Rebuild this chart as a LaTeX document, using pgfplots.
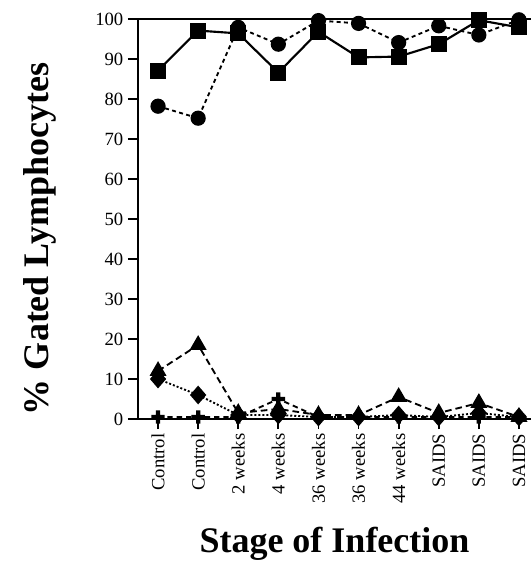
\documentclass[border=0pt]{standalone}
\usepackage{fontspec}
\setmainfont{Liberation Serif}
\usepackage{pgfplots}
\pgfplotsset{compat=1.18}
\pgfdeclareplotmark{fatplus}{%
  \pgfpathrectangle{\pgfpoint{-\pgfplotmarksize}{-0.32\pgfplotmarksize}}{\pgfpoint{2\pgfplotmarksize}{0.64\pgfplotmarksize}}%
  \pgfpathrectangle{\pgfpoint{-0.32\pgfplotmarksize}{-\pgfplotmarksize}}{\pgfpoint{0.64\pgfplotmarksize}{2\pgfplotmarksize}}%
  \pgfusepathqfill}
\begin{document}
\begin{tikzpicture}
\useasboundingbox (-103.5pt,-108pt) rectangle (294.75pt,314.25pt);
\begin{axis}[
  at={(0,0)}, anchor=south west,
  scale only axis, width=294.75pt, height=300pt,
  xmin=-0.5, xmax=9.3, ymin=0, ymax=100,
  axis x line=box, axis y line=left,
  axis line style={line width=1.6pt, -},
  x axis line style={-}, y axis line style={-},
  tick pos=left, tick align=outside,
  major tick length=7.5pt,
  every tick/.style={line width=1.4pt, black},
  xtick={0,...,9},
  xticklabels={Control,Control,2 weeks,4 weeks,36 weeks,36 weeks,44 weeks,SAIDS,SAIDS,SAIDS},
  xticklabel style={rotate=90, anchor=east, font=\fontsize{14}{16}\selectfont},
  ytick={0,10,...,100},
  yticklabel style={font=\fontsize{14}{16}\selectfont},
  /pgf/number format/assume math mode=true,
  xlabel={\textbf{Stage of Infection}},
  ylabel={\textbf{\% Gated Lymphocytes}},
  xlabel style={font=\fontsize{27}{30}\selectfont, at={(axis description cs:0.5,-0.3125)}, anchor=center},
  ylabel style={font=\fontsize{27}{30}\selectfont, at={(axis description cs:-0.249,0.45)}, anchor=center, rotate=0},
  clip=false,
]
% crosses
\addplot[black, line width=1.4pt, dash pattern=on 4pt off 3pt, mark=fatplus, mark size=5pt, mark options={solid}]
  coordinates {(0,0.5)(1,0.5)(2,0.5)(3,5)(4,0.5)(5,0.5)(6,0.5)(7,0.5)(8,0.5)(9,0.5)};
% diamonds
\addplot[black, line width=1.4pt, dash pattern=on 1.5pt off 1.5pt, mark=diamond*, mark size=6pt, mark options={solid, xscale=1.15}]
  coordinates {(0,10)(1,6)(2,1)(3,1)(4,0.5)(5,0.5)(6,1)(7,0.5)(8,1.5)(9,0.5)};
% triangles
\addplot[black, line width=1.4pt, dash pattern=on 5pt off 3pt, mark=triangle*, mark size=6pt, mark options={solid}]
  coordinates {(0,12)(1,18.5)(2,1.5)(3,2.5)(4,1)(5,1)(6,5.5)(7,1.5)(8,4)(9,0.5)};
% circles
\addplot[black, line width=1.4pt, dash pattern=on 3pt off 2.5pt, mark=*, mark size=5pt, mark options={solid}]
  coordinates {(0,78.2)(1,75.2)(2,97.9)(3,93.7)(4,99.6)(5,98.9)(6,94.1)(7,98.3)(8,96)(9,99.8)};
% squares
\addplot[black, line width=1.6pt, solid, mark=square*, mark size=5.2pt]
  coordinates {(0,87.1)(1,97.1)(2,96.4)(3,86.6)(4,96.8)(5,90.4)(6,90.6)(7,93.7)(8,99.7)(9,97.9)};
\end{axis}
\end{tikzpicture}
\end{document}
